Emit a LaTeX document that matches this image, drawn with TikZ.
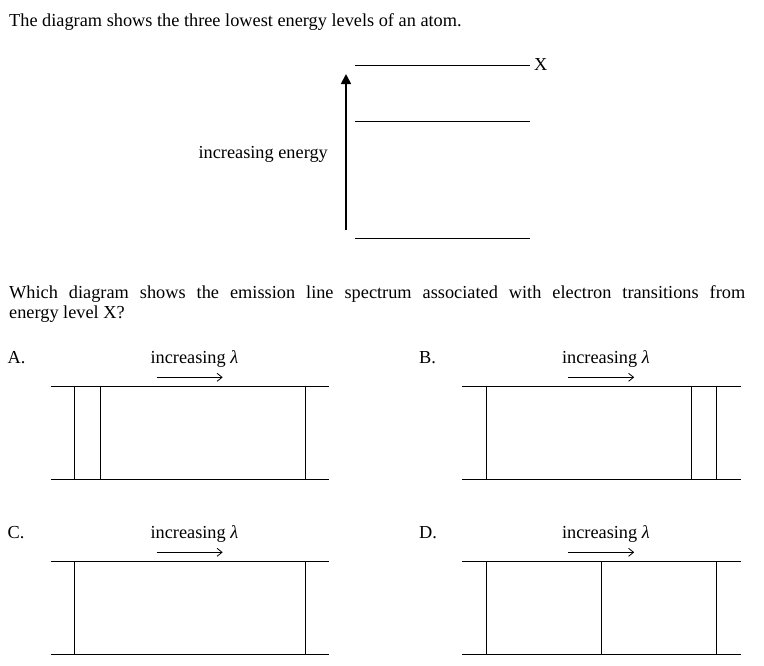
\documentclass[tikz,border=0pt]{standalone}
\usepackage{fontspec}
\setmainfont{Liberation Serif}
\usetikzlibrary{arrows.meta}
\begin{document}
\begin{tikzpicture}[x=1pt,y=-1pt,
  txt/.style={inner sep=0pt,font=\fontsize{18.3}{20}\selectfont},
  level/.style={line width=0.9pt},
  specline/.style={line width=0.9pt},
  energyarrow/.style={line width=1.7pt,-{Triangle[length=10pt,width=10pt]}},
  lamarrow/.style={line width=0.8pt,-{Straight Barb[length=5pt,width=8pt,line width=0.8pt]}}]
\useasboundingbox (0,0) rectangle (764,665);
% heading
\node[txt,anchor=base west] (title) at (9,26.7) {The diagram shows the three lowest energy levels of an atom.};
% energy levels
\coordinate (l1a) at (355,65);  \coordinate (l1b) at (530,65);
\coordinate (l2a) at (355,121); \coordinate (l2b) at (530,121);
\coordinate (l3a) at (355,238); \coordinate (l3b) at (530,238);
\draw[level] (l1a) -- (l1b);
\draw[level] (l2a) -- (l2b);
\draw[level] (l3a) -- (l3b);
\node[txt,anchor=base west] (X) at (534,70.5) {X};
\coordinate (ea) at (346,230);
\coordinate (eb) at (346,74);
\draw[energyarrow] (ea) -- (eb);
\node[txt,anchor=base east] (inc) at (328,158.5) {increasing energy};
% question
\node[txt,anchor=base west] (q1) at (9,298.3) {\makebox[736pt][s]{Which diagram shows the emission line spectrum associated with electron transitions from}};
\node[txt,anchor=base west] (q2) at (9,318.3) {energy level X?};
% options
\foreach \lab/\ox/\oy/\lines in {A/0/0/{74,100.3,305.3}, B/411.5/0/{486.7,691.7,716.3}, C/0/175/{74,305.3}, D/411.5/175/{486.7,601.3,716.3}}{
  \begin{scope}[yshift=-\oy pt]
    \node[txt,anchor=base west] (lab\lab) at (7.5+\ox,363) {\lab.};
    \node[txt,anchor=base] (il\lab) at (194.4+\ox,363) {increasing \textit{λ}};
    \coordinate (ar1\lab) at (156.7+\ox,377.3);
    \coordinate (ar2\lab) at (222.7+\ox,377.3);
    \draw[lamarrow] (ar1\lab) -- (ar2\lab);
    \coordinate (t1\lab) at (50.7+\ox,386);
    \coordinate (t2\lab) at (329+\ox,386);
    \coordinate (b1\lab) at (50.7+\ox,479);
    \coordinate (b2\lab) at (329+\ox,479);
    \draw[specline] (t1\lab) -- (t2\lab);
    \draw[specline] (b1\lab) -- (b2\lab);
    \foreach \lx in \lines {
      \draw[specline] (\lx,386) -- (\lx,479);
    }
  \end{scope}
}
\end{tikzpicture}
\end{document}
